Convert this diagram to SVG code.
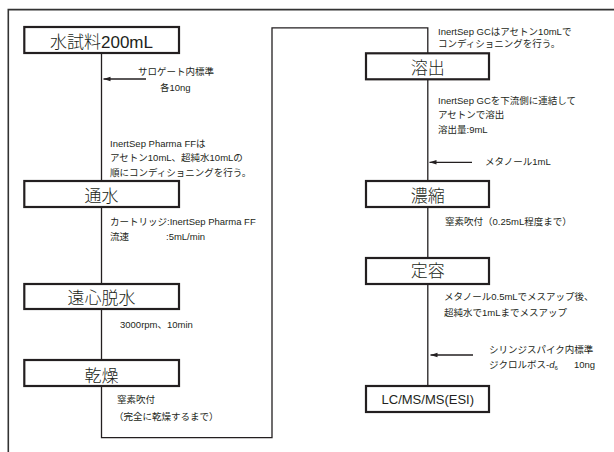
<svg xmlns="http://www.w3.org/2000/svg" width="614" height="452" viewBox="0 0 614 452">
<style>
text{font-family:"Liberation Sans","Noto Sans CJK JP",sans-serif;fill:#231f20}
.t{font-size:17px;text-anchor:middle;font-weight:300}
.s{font-size:9.5px}
.box{fill:#fff;stroke:#231f20;stroke-width:2.2}
.ln{fill:none;stroke:#231f20;stroke-width:1.3}
.frame{fill:none;stroke:#333;stroke-width:1.6}
</style>
<defs>
<marker id="ah" markerWidth="8" markerHeight="6" refX="7" refY="3" orient="auto" markerUnits="userSpaceOnUse">
<path d="M0,0.8 L7,3 L0,5.2 Z" fill="#231f20"/>
</marker>
</defs>
<rect width="614" height="452" fill="#fff"/>
<path class="frame" d="M8.3,452 V9.6 H614"/>
<g id="connectors">
<path class="ln" d="M101.5,53 V181"/>
<path class="ln" d="M101.5,207 V284"/>
<path class="ln" d="M101.5,309 V360"/>
<path class="ln" d="M101.5,386 V437.7 H272 V27.8 H427.8 V53.3"/>
<path class="ln" d="M427.8,79.3 V181"/>
<path class="ln" d="M427.8,207 V258"/>
<path class="ln" d="M427.8,284 V386"/>
<line class="ln" x1="146" y1="79" x2="103.5" y2="79" stroke-width="1" marker-end="url(#ah)"/>
<line class="ln" x1="472" y1="162.3" x2="429.5" y2="162.3" stroke-width="1" marker-end="url(#ah)"/>
<line class="ln" x1="473" y1="355" x2="430.5" y2="355" stroke-width="1" marker-end="url(#ah)"/>
</g>
<g id="n1"><rect class="box" x="24.3" y="27" width="154.7" height="26"/><text class="t" x="101.5" y="48">水試料200mL</text></g>
<g id="n2"><rect class="box" x="24.3" y="181" width="154.7" height="26"/><text class="t" x="101.5" y="202">通水</text></g>
<g id="n3"><rect class="box" x="24.3" y="284" width="154.7" height="25"/><text class="t" x="101.5" y="304">遠心脱水</text></g>
<g id="n4"><rect class="box" x="24.3" y="360" width="154.7" height="26"/><text class="t" x="101.5" y="382">乾燥</text></g>
<g id="n5"><rect class="box" x="366" y="53.3" width="123" height="26"/><text class="t" x="427.8" y="74">溶出</text></g>
<g id="n6"><rect class="box" x="366" y="181" width="123" height="26"/><text class="t" x="427.8" y="202">濃縮</text></g>
<g id="n7"><rect class="box" x="366" y="258" width="123" height="26"/><text class="t" x="427.8" y="277">定容</text></g>
<g id="n8"><rect class="box" x="366" y="386" width="123" height="26"/><text class="t" x="427.8" y="404" style="font-size:13px;font-weight:400">LC/MS/MS(ESI)</text></g>
<g id="labels">
<text class="s" x="138" y="75">サロゲート内標準</text>
<text class="s" x="160" y="91">各10ng</text>
<text class="s" x="110" y="147">InertSep Pharma FFは</text>
<text class="s" x="110" y="161">アセトン10mL、超純水10mLの</text>
<text class="s" x="110" y="176">順にコンディショニングを行う。</text>
<text class="s" x="110" y="225">カートリッジ:InertSep Pharma FF</text>
<text class="s" x="110" y="240">流速</text>
<text class="s" x="166" y="240">:5mL/min</text>
<text class="s" x="120" y="328">3000rpm、10min</text>
<text class="s" x="117" y="403">窒素吹付</text>
<text class="s" x="114" y="420">（完全に乾燥するまで）</text>
<text class="s" x="438" y="35">InertSep GCはアセトン10mLで</text>
<text class="s" x="438" y="47">コンディショニングを行う。</text>
<text class="s" x="438" y="104">InertSep GCを下流側に連結して</text>
<text class="s" x="438" y="118">アセトンで溶出</text>
<text class="s" x="438" y="133">溶出量:9mL</text>
<text class="s" x="485" y="165">メタノール1mL</text>
<text class="s" x="445" y="225">窒素吹付（0.25mL程度まで）</text>
<text class="s" x="444" y="300">メタノール0.5mLでメスアップ後、</text>
<text class="s" x="444" y="316">超純水で1mLまでメスアップ</text>
<text class="s" x="489" y="353">シリンジスパイク内標準</text>
<text class="s" x="489" y="368">ジクロルボス-<tspan font-style="italic">d</tspan><tspan font-size="6" dy="2">6</tspan><tspan x="574" dy="-2">10ng</tspan></text>
</g>
</svg>
